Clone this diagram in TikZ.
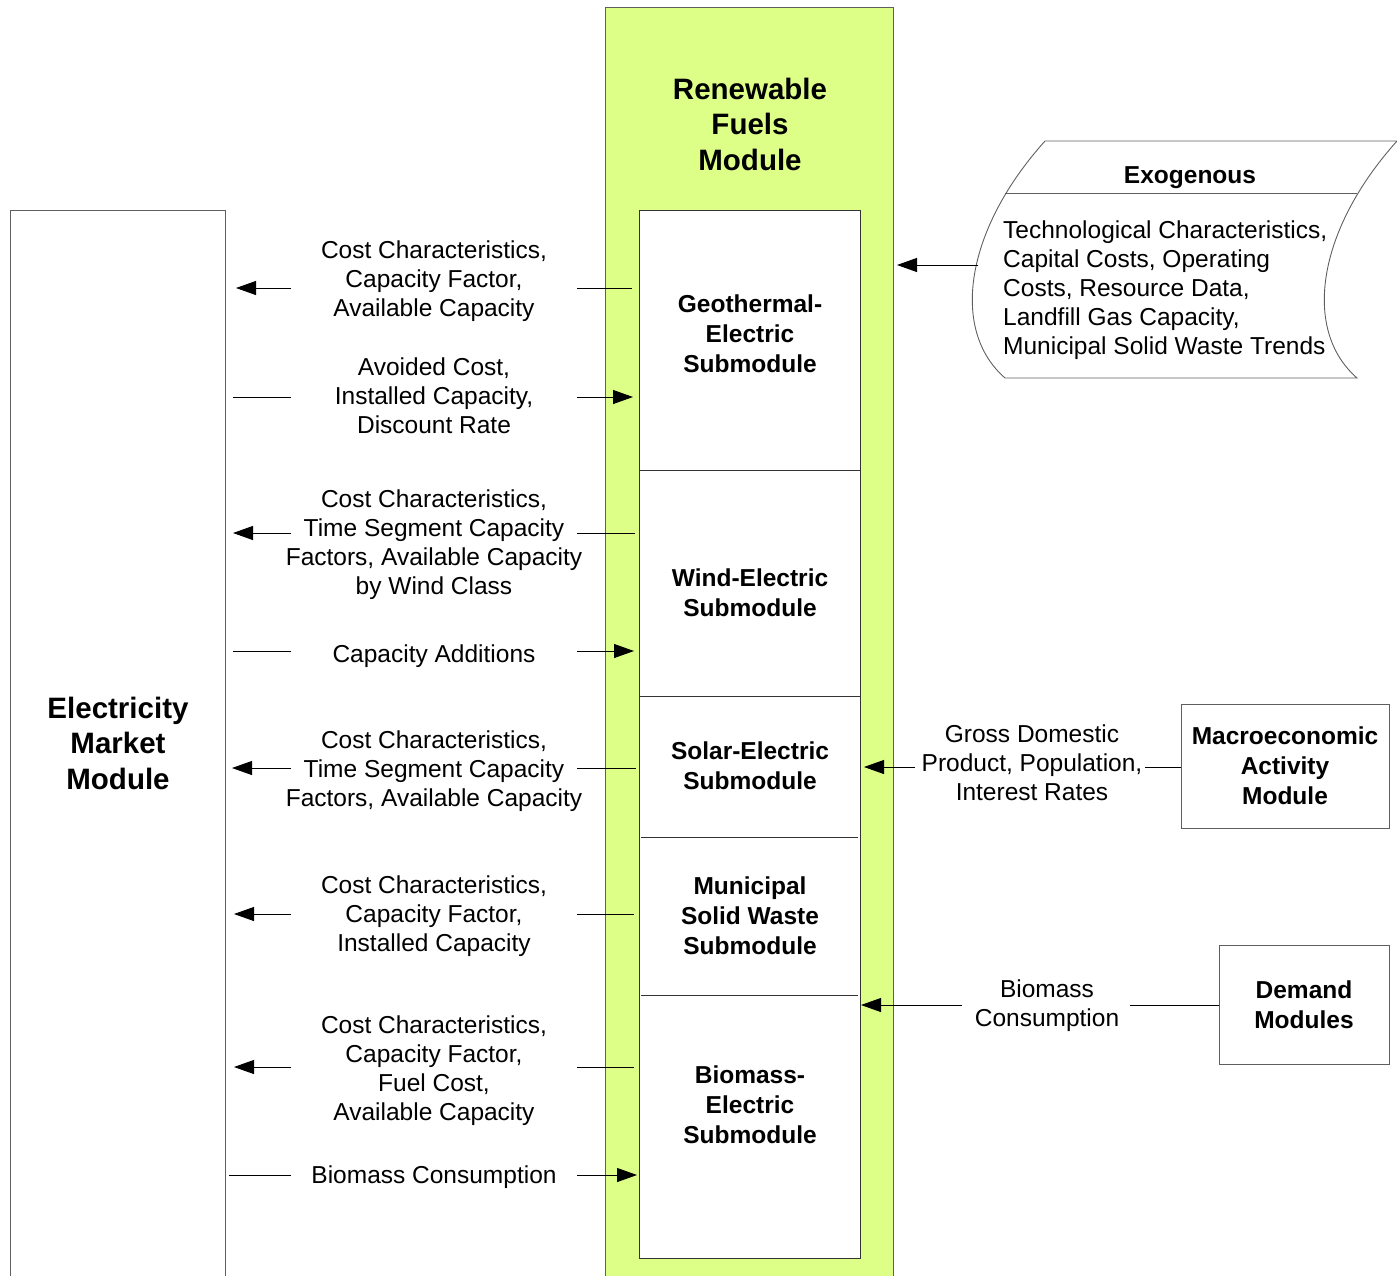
\documentclass[tikz,border=0pt]{standalone}
\usepackage{fontspec}
\setmainfont{Liberation Sans}
\usetikzlibrary{arrows.meta}
\definecolor{rfgreen}{RGB}{221,255,136}
\definecolor{edgegray}{RGB}{95,95,95}
\tikzset{
 lbl/.style={align=center, font=\fontsize{24.5}{29}\selectfont, inner sep=0pt},
 blbl/.style={align=center, font=\bfseries\fontsize{24.5}{30}\selectfont, inner sep=0pt},
 bigl/.style={align=center, font=\bfseries\fontsize{29.5}{35.5}\selectfont, inner sep=0pt},
 conn/.style={draw=black, line width=0.9pt},
 arr/.style={conn, -{Triangle[length=20pt,width=14pt]}},
 boxline/.style={draw=edgegray, line width=1pt},
}
\begin{document}
\begin{tikzpicture}[x=1pt,y=-1pt]
\useasboundingbox (0,0) rectangle (1397,1275);
\clip (0,0) rectangle (1397,1275);

% Electricity Market Module
\node[boxline, anchor=north west, minimum width=215pt, minimum height=1100pt, inner sep=0pt] (emm) at (10,210) {};
\node[bigl] (emmt) at (118,743) {Electricity\\Market\\Module};

% Renewable Fuels Module
\node[boxline, fill=rfgreen, anchor=north west, minimum width=288pt, minimum height=1300pt, inner sep=0pt] (rfm) at (605,7) {};
\node[bigl] (rfmt) at (750,124) {Renewable\\Fuels\\Module};
\node[draw=black!80, line width=1pt, fill=white, anchor=north west, minimum width=221pt, minimum height=1048pt, inner sep=0pt] (col) at (639,210) {};
\draw[draw=black!80, line width=1pt] (639,470) -- (860,470);
\draw[draw=black!80, line width=1pt] (639,696) -- (860,696);
\draw[draw=black!80, line width=1pt] (641,837) -- (858,837);
\draw[draw=black!80, line width=1pt] (641,995) -- (858,995);

\node[blbl] (geo) at (750,334) {Geothermal-\\Electric\\Submodule};
\node[blbl] (wind) at (750,593) {Wind-Electric\\Submodule};
\node[blbl] (solar) at (750,766) {Solar-Electric\\Submodule};
\node[blbl] (msw) at (750,916) {Municipal\\Solid Waste\\Submodule};
\node[blbl] (bio) at (750,1105) {Biomass-\\Electric\\Submodule};

% Flow labels on the left
\node[lbl] (t1) at (434,281) {Cost Characteristics,\\Capacity Factor,\\Available Capacity};
\node[lbl] (t2) at (434,396) {Avoided Cost,\\Installed Capacity,\\Discount Rate};
\node[lbl] (t3) at (434,545) {Cost Characteristics,\\Time Segment Capacity\\Factors, Available Capacity\\by Wind Class};
\node[lbl] (t4) at (434,656) {Capacity Additions};
\node[lbl] (t5) at (434,771) {Cost Characteristics,\\Time Segment Capacity\\Factors, Available Capacity};
\node[lbl] (t6) at (434,916) {Cost Characteristics,\\Capacity Factor,\\Installed Capacity};
\node[lbl] (t7) at (434,1071) {Cost Characteristics,\\Capacity Factor,\\Fuel Cost,\\Available Capacity};
\node[lbl] (t8) at (434,1177) {Biomass Consumption};

% connector end points
\coordinate (a1) at (236,288);  \coordinate (b1) at (291,288);  \coordinate (c1) at (577,288);  \coordinate (d1) at (632,288);
\coordinate (a2) at (233,397);  \coordinate (b2) at (291,397);  \coordinate (c2) at (577,397);  \coordinate (d2) at (633,397);
\coordinate (a3) at (233,533);  \coordinate (b3) at (291,533);  \coordinate (c3) at (577,533);  \coordinate (d3) at (635,533);
\coordinate (a4) at (233,651);  \coordinate (b4) at (291,651);  \coordinate (c4) at (577,651);  \coordinate (d4) at (634,651);
\coordinate (a5) at (232,768);  \coordinate (b5) at (291,768);  \coordinate (c5) at (577,768);  \coordinate (d5) at (636,768);
\coordinate (a6) at (234,914);  \coordinate (b6) at (291,914);  \coordinate (c6) at (577,914);  \coordinate (d6) at (634,914);
\coordinate (a7) at (234,1067); \coordinate (b7) at (291,1067); \coordinate (c7) at (577,1067); \coordinate (d7) at (634,1067);
\coordinate (a8) at (229,1175); \coordinate (b8) at (291,1175); \coordinate (c8) at (577,1175); \coordinate (d8) at (637,1175);

% outputs to Electricity Market Module
\draw[conn] (c1) -- (d1); \draw[arr] (b1) -- (a1);
\draw[conn] (c3) -- (d3); \draw[arr] (b3) -- (a3);
\draw[conn] (c5) -- (d5); \draw[arr] (b5) -- (a5);
\draw[conn] (c6) -- (d6); \draw[arr] (b6) -- (a6);
\draw[conn] (c7) -- (d7); \draw[arr] (b7) -- (a7);
% inputs from Electricity Market Module
\draw[conn] (a2) -- (b2); \draw[arr] (c2) -- (d2);
\draw[conn] (a4) -- (b4); \draw[arr] (c4) -- (d4);
\draw[conn] (a8) -- (b8); \draw[arr] (c8) -- (d8);

% Exogenous
\draw[boxline, line width=0.9pt] (1045,141) -- (1397,141)
  .. controls (1317,230) and (1302,330) .. (1357,378) -- (1005,378)
  .. controls (950,330) and (965,230) .. (1045,141) -- cycle;
\draw[boxline, line width=0.9pt] (1005,193) -- (1357,193);
\node[blbl] (exot) at (1190,178) {Exogenous};
\node[lbl, align=left, anchor=west] (exob) at (1003,290) {Technological Characteristics,\\Capital Costs, Operating\\Costs, Resource Data,\\Landfill Gas Capacity,\\Municipal Solid Waste Trends};
\coordinate (ex1) at (978,265);
\coordinate (ex2) at (897,265);
\draw[arr] (ex1) -- (ex2);

% Macroeconomic Activity Module
\node[boxline, blbl, minimum width=208pt, minimum height=124pt] (mam) at (1285,766) {Macroeconomic\\Activity\\Module};
\node[lbl] (gdp) at (1032,763) {Gross Domestic\\Product, Population,\\Interest Rates};
\coordinate (g1) at (1145,767);
\coordinate (g2) at (915,767);
\coordinate (g3) at (864,767);
\draw[conn] (mam.west |- g1) -- (g1);
\draw[arr] (g2) -- (g3);

% Demand Modules
\node[boxline, blbl, minimum width=170pt, minimum height=119pt] (dem) at (1304,1004.5) {Demand\\Modules};
\node[lbl] (bcons) at (1047,1006) {Biomass\\Consumption};
\coordinate (h1) at (1130,1005);
\coordinate (h2) at (962,1005);
\coordinate (h3) at (861,1005);
\draw[conn] (dem.west |- h1) -- (h1);
\draw[arr] (h2) -- (h3);
\end{tikzpicture}
\end{document}
